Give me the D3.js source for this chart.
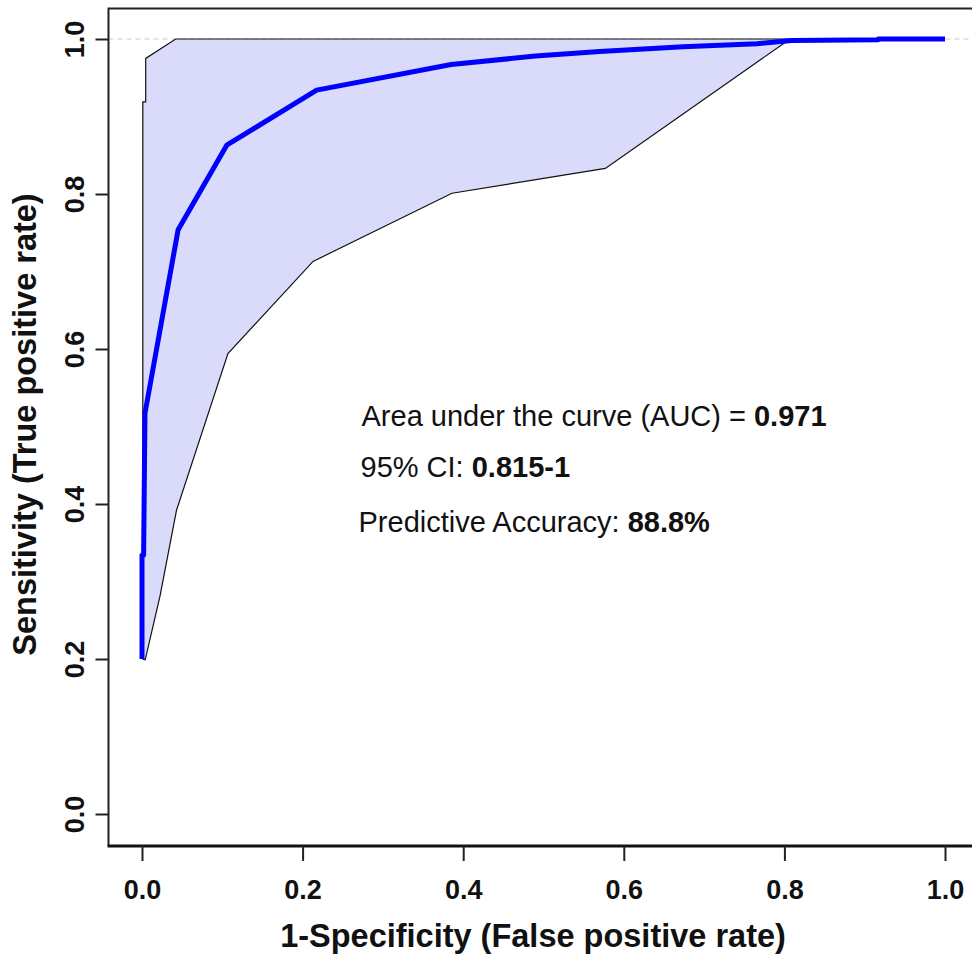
<!DOCTYPE html>
<html>
<head>
<meta charset="utf-8">
<script src="https://cdn.jsdelivr.net/npm/d3@7"></script>
<style>
  html, body { margin: 0; padding: 0; background: #fff; }
  svg { display: block; }
  text { font-family: "Liberation Sans", Arial, Helvetica, sans-serif; }
</style>
</head>
<body>
<svg id="chart" width="972" height="955"></svg>
<script>
// ---- data ----
const xTicks = [0, 0.2, 0.4, 0.6, 0.8, 1.0];
const yTicks = [0, 0.2, 0.4, 0.6, 0.8, 1.0];

// ROC curve (1-specificity, sensitivity)
const rocFPR = [0, 0, 0.002, 0.0037, 0.045, 0.1055, 0.2175, 0.385, 0.49, 0.57, 0.674, 0.766, 0.809, 0.917, 0.917, 1];
const rocTPR = [0.2, 0.334, 0.334, 0.517, 0.754, 0.863, 0.934, 0.967, 0.978, 0.984, 0.990, 0.994, 0.998, 0.999, 1, 1];

// 95% CI band: upper bound (bottom -> top), lower bound (top -> bottom)
const ciUpperFPR = [0.001, 0.001, 0.0046, 0.0046, 0.042, 0.807];
const ciUpperTPR = [0.2, 0.919, 0.919, 0.975, 1, 1];
const ciLowerFPR = [0.807, 0.577, 0.386, 0.213, 0.107, 0.043, 0.0224, 0.004];
const ciLowerTPR = [1, 0.833, 0.801, 0.713, 0.594, 0.392, 0.281, 0.199];

const annotations = [
  { normal: "Area under the curve (AUC) = ", bold: "0.971" },
  { normal: "95% CI: ", bold: "0.815-1" },
  { normal: "Predictive Accuracy: ", bold: "88.8%" }
];
const xTitle = "1-Specificity (False positive rate)";
const yTitle = "Sensitivity (True positive rate)";

// ---- layout ----
const svg = d3.select("#chart");
const x = d3.scaleLinear().domain([0, 1]).range([142, 945]);
const y = d3.scaleLinear().domain([0, 1]).range([814, 39]);
const box = { left: 108.5, top: 8.5, right: 978, bottom: 846 };

// dashed reference line at sensitivity = 1
svg.append("line")
  .attr("x1", box.left).attr("x2", box.right)
  .attr("y1", y(1)).attr("y2", y(1))
  .attr("stroke", "#c8c8c8").attr("stroke-width", 1.2)
  .attr("stroke-dasharray", "5,4");

// CI polygon
const polyPts = ciUpperFPR.map((f, i) => [x(f), y(ciUpperTPR[i])])
  .concat(ciLowerFPR.map((f, i) => [x(f), y(ciLowerTPR[i])]));
svg.append("path")
  .attr("d", "M" + polyPts.map(p => p.join(",")).join("L") + "Z")
  .attr("fill", "#dadafb")
  .attr("stroke", "#111")
  .attr("stroke-width", 1.2);

// ROC line
const line = d3.line().x(d => x(d[0])).y(d => y(d[1]));
svg.append("path")
  .datum(rocFPR.map((f, i) => [f, rocTPR[i]]))
  .attr("d", line)
  .attr("fill", "none")
  .attr("stroke", "#0000ff")
  .attr("stroke-width", 5)
  .attr("stroke-linejoin", "round");

// frame
svg.append("path")
  .attr("d", `M${box.right},${box.top}H${box.left}V${box.bottom}`)
  .attr("fill", "none").attr("stroke", "#222").attr("stroke-width", 2);
svg.append("line")
  .attr("x1", box.left - 1).attr("x2", box.right)
  .attr("y1", box.bottom).attr("y2", box.bottom)
  .attr("stroke", "#111").attr("stroke-width", 3.2);

// x axis
const xAxis = d3.axisBottom(x).tickValues(xTicks).tickFormat(d3.format(".1f"))
  .tickSize(15).tickSizeOuter(0);
const gx = svg.append("g").attr("transform", `translate(0,${box.bottom})`).call(xAxis);
gx.select(".domain").remove();
gx.selectAll(".tick line").attr("stroke", "#222").attr("stroke-width", 2);
gx.selectAll(".tick text")
  .attr("y", 53).attr("dy", null)
  .attr("fill", "#111")
  .style("font-size", "27px").style("font-weight", "bold");

// y axis
const yAxis = d3.axisLeft(y).tickValues(yTicks).tickFormat(d3.format(".1f"))
  .tickSize(13).tickSizeOuter(0);
const gy = svg.append("g").attr("transform", `translate(${box.left},0)`).call(yAxis);
gy.select(".domain").remove();
gy.selectAll(".tick line").attr("stroke", "#222").attr("stroke-width", 2);
gy.selectAll(".tick text")
  .attr("x", 0).attr("y", -25).attr("dy", null)
  .attr("transform", "rotate(-90)")
  .attr("text-anchor", "middle")
  .attr("fill", "#111")
  .style("font-size", "27px").style("font-weight", "bold");

// axis titles
svg.append("text")
  .attr("x", 533).attr("y", 947)
  .attr("text-anchor", "middle")
  .style("font-size", "32.5px").style("font-weight", "bold")
  .attr("fill", "#111")
  .text(xTitle);
svg.append("text")
  .attr("transform", `translate(36,${(y(0) + y(1)) / 2 - 2}) rotate(-90)`)
  .attr("text-anchor", "middle")
  .style("font-size", "32.5px").style("font-weight", "bold")
  .attr("fill", "#111")
  .text(yTitle);

// annotations
const annY = [425.5, 477, 531.5];
const annX = [361.5, 360.5, 358.5];
annotations.forEach((a, i) => {
  const t = svg.append("text")
    .attr("x", annX[i]).attr("y", annY[i])
    .style("font-size", "29px").attr("fill", "#111");
  t.append("tspan").text(a.normal);
  t.append("tspan").style("font-weight", "bold").text(a.bold);
});
</script>
</body>
</html>
